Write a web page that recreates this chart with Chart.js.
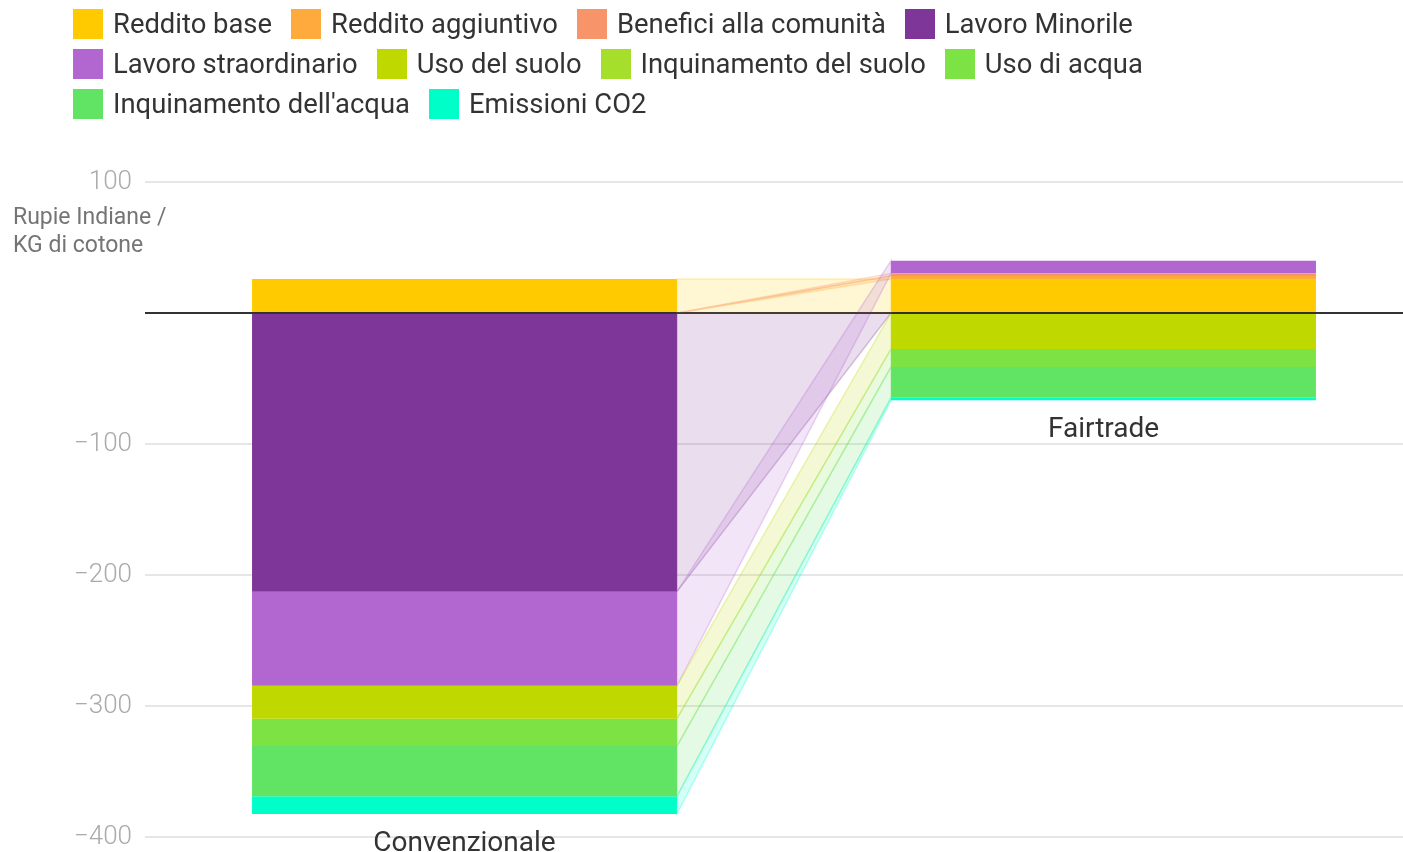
<!DOCTYPE html>
<html>
<head>
<meta charset="utf-8">
<script src="https://cdn.jsdelivr.net/npm/chart.js@4"></script>
<style>
  body { margin: 0; overflow: hidden; background: #fff; font-family: Roboto, sans-serif; }
  #wrap { position: relative; width: 1403px; height: 852px; overflow: hidden; }
  #chart-cotone { position: absolute; left: 0; top: 0; }
  #legenda { position: absolute; left: 73px; top: 9px; width: 1250px; display: flex; flex-wrap: wrap; }
  .voce { display: flex; align-items: center; height: 30px; margin: 0 19px 10px 0; font-size: 27.4px; color: #333; }
  .voce .box { width: 30px; height: 30px; margin-right: 10px; }
  #titoloY { position: absolute; left: 13px; top: 203px; font-size: 23px; color: #757575; line-height: 28px; }
</style>
</head>
<body>
<div id="wrap">
  <canvas id="chart-cotone" width="1423" height="866"></canvas>
  <div id="legenda"></div>
  <div id="titoloY">Rupie Indiane /<br>KG di cotone</div>
</div>
<script>
// dati (rupie indiane per kg di cotone)
const categorie = ['Convenzionale', 'Fairtrade'];

const redditoBase = [26, 26];
const redditoAggiuntivo = [0, 2.3];
const beneficiComunita = [0, 2];
const lavoroMinorile = [-212.5, 0];
const lavoroStraordinario = [-71.8, 9.7];
const usoSuolo = [-25.1, -27.4];
const inquinamentoSuolo = [0, 0];
const usoAcqua = [-20.9, -13.7];
const inquinamentoAcqua = [-38.3, -23.4];
const emissioniCO2 = [-13.5, -2];

const serie = ['Reddito base', 'Reddito aggiuntivo', 'Benefici alla comunità', 'Lavoro Minorile',
  'Lavoro straordinario', 'Uso del suolo', 'Inquinamento del suolo', 'Uso di acqua',
  "Inquinamento dell'acqua", 'Emissioni CO2'];
const valori = [redditoBase, redditoAggiuntivo, beneficiComunita, lavoroMinorile, lavoroStraordinario,
  usoSuolo, inquinamentoSuolo, usoAcqua, inquinamentoAcqua, emissioniCO2];
const colori = ['#ffcb00', '#ffaa3c', '#f7946a', '#7e3798', '#b266d0',
  '#bfd800', '#a5df2c', '#7de344', '#61e463', '#00ffc8'];

const yTicks = [100, 0, -100, -200, -300, -400];

// legenda html
const legenda = document.getElementById('legenda');
serie.forEach(function(nome, i) {
  const v = document.createElement('div');
  v.className = 'voce';
  v.innerHTML = '<span class="box" style="background:' + colori[i] + '"></span>' + nome;
  legenda.appendChild(v);
});

function rgba(hex, a) {
  const n = parseInt(hex.slice(1), 16);
  return 'rgba(' + (n >> 16) + ',' + ((n >> 8) & 255) + ',' + (n & 255) + ',' + a + ')';
}

// posizioni impilate: positivi sopra lo zero, zero e negativi sotto
function segmenti(chart) {
  const y = chart.scales.y;
  const out = valori.map(function() { return []; });
  categorie.forEach(function(c, j) {
    let p = 0, n = 0;
    valori.forEach(function(arr, i) {
      const v = arr[j];
      let top, bot;
      if (v > 0) { bot = p; p += v; top = p; }
      else { top = n; n += v; bot = n; }
      out[i][j] = [y.getPixelForValue(top), y.getPixelForValue(bot)];
    });
  });
  return out;
}

const bande = {
  id: 'bande',
  beforeDatasetsDraw(chart) {
    const c = chart.ctx;
    const seg = segmenti(chart);
    const b0 = chart.getDatasetMeta(0).data[0], b1 = chart.getDatasetMeta(0).data[1];
    const x0 = b0.x + b0.width / 2, x1 = b1.x - b1.width / 2;
    c.save();
    seg.forEach(function(s, i) {
      const a = s[0], b = s[1];
      if (a[1] - a[0] < 0.1 && b[1] - b[0] < 0.1) return;
      c.beginPath();
      c.moveTo(x0, a[0]);
      c.lineTo(x1, b[0]);
      c.lineTo(x1, b[1]);
      c.lineTo(x0, a[1]);
      c.closePath();
      c.fillStyle = rgba(colori[i], 0.17);
      c.fill();
      c.strokeStyle = rgba(colori[i], 0.28);
      c.lineWidth = 1.5;
      c.stroke();
    });
    c.restore();
  },
  afterDatasetsDraw(chart) {
    const c = chart.ctx, area = chart.chartArea;
    const y0 = chart.scales.y.getPixelForValue(0);
    c.save();
    c.strokeStyle = '#333';
    c.lineWidth = 1.5;
    c.beginPath();
    c.moveTo(area.left, y0);
    c.lineTo(area.right, y0);
    c.stroke();
    // etichette sotto le barre
    const seg = segmenti(chart);
    c.font = '28px Roboto';
    c.fillStyle = '#333';
    c.textAlign = 'center';
    c.textBaseline = 'middle';
    categorie.forEach(function(nome, j) {
      let fondo = 0;
      seg.forEach(function(s) { fondo = Math.max(fondo, s[j][1]); });
      const bar = chart.getDatasetMeta(0).data[j];
      c.fillText(nome, bar.x, fondo + 30);
    });
    c.restore();
  }
};

var ctx = document.getElementById('chart-cotone');
const cotoneChart = new Chart(ctx, {
  type: 'bar',
  data: {
    labels: categorie,
    datasets: valori.map(function(arr, i) {
      return {
        label: serie[i],
        data: arr,
        backgroundColor: colori[i],
        borderWidth: 0,
        barPercentage: 1,
        categoryPercentage: 0.665
      };
    })
  },
  options: {
    responsive: false,
    animation: false,
    layout: { padding: { top: 182, bottom: 1, left: 0, right: 0 } },
    plugins: {
      legend: { display: false },
      tooltip: { enabled: false }
    },
    scales: {
      x: {
        stacked: true,
        display: false
      },
      y: {
        stacked: true,
        min: -400,
        max: 100,
        afterBuildTicks: function(s) { s.ticks = yTicks.map(function(v) { return { value: v }; }); },
        afterFit: function(s) { s.width = 145; },
        border: { display: false },
        grid: {
          color: function(c) { return c.tick && c.tick.value === 0 ? '#333' : '#e6e6e6'; },
          lineWidth: 2,
          drawTicks: false
        },
        ticks: {
          padding: 13,
          color: '#aaa',
          font: { family: 'Roboto', size: 26, weight: '300' },
          callback: function(v) {
            if (v === 0) return '';
            return v < 0 ? '\u2212' + Math.abs(v) : String(v);
          }
        }
      }
    }
  },
  plugins: [bande]
});
</script>
</body>
</html>
